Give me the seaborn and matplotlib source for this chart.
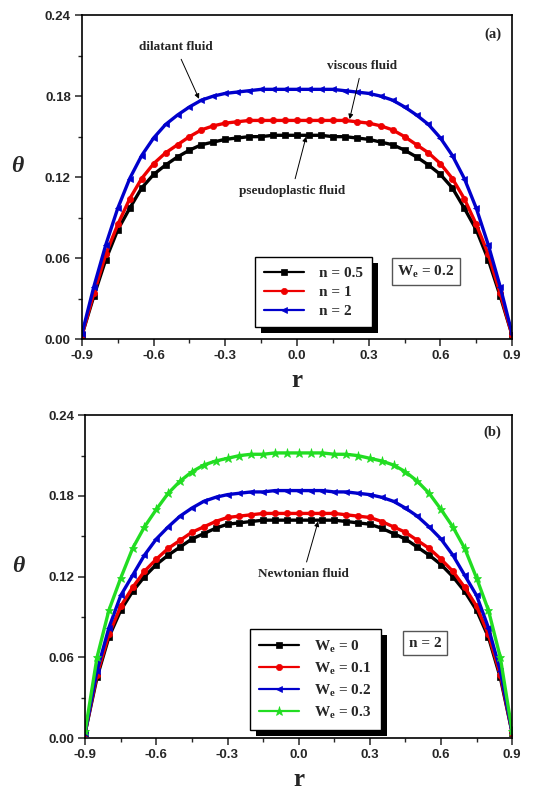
import numpy as np
import pandas as pd
import matplotlib
matplotlib.use("Agg")
import matplotlib.pyplot as plt
import seaborn as sns
from matplotlib.ticker import MultipleLocator, FormatStrFormatter
from matplotlib.patches import Rectangle

# ----- data -----
r = [-0.9, -0.85, -0.8, -0.75, -0.7, -0.65, -0.6, -0.55, -0.5, -0.45, -0.4, -0.35,
     -0.3, -0.25, -0.2, -0.15, -0.1, -0.05, 0.0, 0.05, 0.1, 0.15, 0.2, 0.25, 0.3,
     0.35, 0.4, 0.45, 0.5, 0.55, 0.6, 0.65, 0.7, 0.75, 0.8, 0.85, 0.9]

# panel (a): We = 0.2, varying n
theta_n05 = [0.003, 0.032, 0.059, 0.081, 0.097, 0.112, 0.122, 0.129, 0.135, 0.140, 0.144, 0.146,
             0.148, 0.149, 0.150, 0.150, 0.151, 0.151, 0.151, 0.151, 0.151, 0.150, 0.150, 0.149,
             0.148, 0.146, 0.144, 0.140, 0.135, 0.129, 0.122, 0.112, 0.097, 0.081, 0.059, 0.032, 0.003]
theta_n1 = [0.003, 0.034, 0.063, 0.085, 0.104, 0.119, 0.130, 0.138, 0.144, 0.150, 0.155, 0.158,
            0.160, 0.161, 0.162, 0.162, 0.162, 0.162, 0.162, 0.162, 0.162, 0.162, 0.162, 0.161,
            0.160, 0.158, 0.155, 0.150, 0.144, 0.138, 0.130, 0.119, 0.104, 0.085, 0.063, 0.034, 0.003]
theta_n2 = [0.004, 0.039, 0.070, 0.097, 0.119, 0.136, 0.149, 0.159, 0.166, 0.172, 0.177, 0.180,
            0.182, 0.183, 0.184, 0.185, 0.185, 0.185, 0.185, 0.185, 0.185, 0.185, 0.184, 0.183,
            0.182, 0.180, 0.177, 0.172, 0.166, 0.159, 0.149, 0.136, 0.119, 0.097, 0.070, 0.039, 0.004]

# panel (b): n = 2, varying We
theta_we0 = [0.004, 0.045, 0.075, 0.095, 0.109, 0.120, 0.129, 0.136, 0.142, 0.148, 0.152, 0.156,
             0.159, 0.160, 0.161, 0.162, 0.162, 0.162, 0.162, 0.162, 0.162, 0.162, 0.161, 0.160,
             0.159, 0.156, 0.152, 0.148, 0.142, 0.136, 0.129, 0.120, 0.109, 0.095, 0.075, 0.045, 0.004]
theta_we01 = [0.004, 0.047, 0.077, 0.098, 0.112, 0.124, 0.133, 0.141, 0.147, 0.153, 0.157, 0.161,
              0.164, 0.165, 0.166, 0.167, 0.167, 0.167, 0.167, 0.167, 0.167, 0.167, 0.166, 0.165,
              0.164, 0.161, 0.157, 0.153, 0.147, 0.141, 0.133, 0.124, 0.112, 0.098, 0.077, 0.047, 0.004]
theta_we02 = [0.004, 0.050, 0.082, 0.106, 0.121, 0.136, 0.148, 0.157, 0.165, 0.171, 0.176, 0.179,
              0.181, 0.182, 0.183, 0.183, 0.184, 0.184, 0.184, 0.184, 0.184, 0.183, 0.183, 0.182,
              0.181, 0.179, 0.176, 0.171, 0.165, 0.157, 0.148, 0.136, 0.121, 0.106, 0.082, 0.050, 0.004]
theta_we03 = [0.005, 0.060, 0.095, 0.119, 0.141, 0.157, 0.170, 0.182, 0.191, 0.198, 0.203, 0.206,
              0.208, 0.210, 0.211, 0.211, 0.212, 0.212, 0.212, 0.212, 0.212, 0.211, 0.211, 0.210,
              0.208, 0.206, 0.203, 0.198, 0.191, 0.182, 0.170, 0.157, 0.141, 0.119, 0.095, 0.060, 0.005]

labels_a = ["n = 0.5", "n = 1", "n = 2"]
labels_b = [r"$\mathbf{W}_\mathbf{e}$ = 0", r"$\mathbf{W}_\mathbf{e}$ = 0.1",
            r"$\mathbf{W}_\mathbf{e}$ = 0.2", r"$\mathbf{W}_\mathbf{e}$ = 0.3"]
colors = ["black", "#ee0000", "#0000cc", "#22dd22"]
markers = ["s", "o", "<", "*"]

# ----- style -----
sns.set_style("ticks")
plt.rcParams["font.family"] = ["Liberation Sans", "DejaVu Sans"]
plt.rcParams["axes.unicode_minus"] = False
plt.rcParams["mathtext.fontset"] = "custom"
plt.rcParams["mathtext.bf"] = "Liberation Serif:bold"
plt.rcParams["mathtext.rm"] = "Liberation Serif:bold"
serif = "Liberation Serif"

fig = plt.figure(figsize=(5.46, 7.91), dpi=100)
ax1 = fig.add_axes([0.150, 0.571, 0.788, 0.410])
ax2 = fig.add_axes([0.156, 0.067, 0.782, 0.408])


def style_axis(ax, ylab_x):
    ax.set_xlim(-0.9, 0.9)
    ax.set_ylim(0, 0.24)
    ax.xaxis.set_major_locator(MultipleLocator(0.3))
    ax.xaxis.set_minor_locator(MultipleLocator(0.15))
    ax.yaxis.set_major_locator(MultipleLocator(0.06))
    ax.yaxis.set_minor_locator(MultipleLocator(0.03))
    ax.xaxis.set_major_formatter(FormatStrFormatter("%.1f"))
    ax.yaxis.set_major_formatter(FormatStrFormatter("%.2f"))
    ax.tick_params(which="major", direction="out", length=5, width=1.1, labelsize=9.5,
                   top=False, right=False, pad=3)
    ax.tick_params(which="minor", direction="out", length=3, width=1.0, top=False, right=False)
    for lab in ax.get_xticklabels() + ax.get_yticklabels():
        lab.set_fontweight("bold")
    for sp in ax.spines.values():
        sp.set_linewidth(1.2)
        sp.set_color("black")
    ax.set_xlabel("r", fontfamily=serif, fontweight="bold", fontsize=18, labelpad=5)
    ax.set_ylabel("θ", rotation=0, fontfamily=serif, fontstyle="italic",
                  fontweight="bold", fontsize=17)
    ax.yaxis.set_label_coords(ylab_x, 0.5)


def draw_series(ax, series, labels):
    for i, (vals, lab) in enumerate(zip(series, labels)):
        sns.lineplot(x=r, y=vals, ax=ax, color=colors[i], marker=markers[i],
                     markersize=4.5 if markers[i] != "*" else 6.5, markeredgecolor=colors[i],
                     markeredgewidth=0.5, linewidth=2.4, label=lab)


def add_legend(ax, anchor):
    leg = ax.legend(loc="upper left", bbox_to_anchor=anchor, borderaxespad=0,
                    frameon=True, fancybox=False, framealpha=1, edgecolor="black",
                    handlelength=2.6, handletextpad=1.0, labelspacing=0.35,
                    borderpad=0.6, numpoints=1,
                    prop={"family": serif, "weight": "bold", "size": 11})
    leg.get_frame().set_linewidth(1.0)
    for h in leg.legend_handles:
        h.set_linewidth(1.6)
    return leg


draw_series(ax1, [theta_n05, theta_n1, theta_n2], labels_a)
style_axis(ax1, -0.15)
leg1 = add_legend(ax1, (0.402, 0.253))

draw_series(ax2, [theta_we0, theta_we01, theta_we02, theta_we03], labels_b)
style_axis(ax2, -0.157)
leg2 = add_legend(ax2, (0.386, 0.337))

# annotation text
ann = dict(fontfamily=serif, fontweight="bold", fontsize=9.5, ha="center", va="center")
arrow = dict(arrowstyle="-|>", color="black", lw=0.7, mutation_scale=7, shrinkB=0)

ax1.annotate("dilatant fluid", xy=(-0.41, 0.178), xytext=(-0.507, 0.216),
             arrowprops=arrow, **ann)
ax1.annotate("viscous fluid", xy=(0.22, 0.163), xytext=(0.272, 0.202),
             arrowprops=arrow, **ann)
ax1.annotate("pseudoplastic fluid", xy=(0.038, 0.150), xytext=(-0.021, 0.110),
             arrowprops=arrow, **ann)
ax2.annotate("Newtonian fluid", xy=(0.082, 0.161), xytext=(0.019, 0.122),
             arrowprops=arrow, **ann)

ax1.text(0.975, 0.94, "(a)", transform=ax1.transAxes, ha="right", va="center",
         fontfamily=serif, fontweight="bold", fontsize=10.5)
ax2.text(0.975, 0.947, "(b)", transform=ax2.transAxes, ha="right", va="center",
         fontfamily=serif, fontweight="bold", fontsize=10.5)

box = dict(boxstyle="square,pad=0.35", fc="white", ec="#555555", lw=1.0)
ax1.text(0.80, 0.21, r"$\mathbf{W}_\mathbf{e}$ = 0.2", transform=ax1.transAxes,
         ha="center", va="center", fontfamily=serif, fontweight="bold", fontsize=11, bbox=box)
ax2.text(0.796, 0.294, "n = 2", transform=ax2.transAxes,
         ha="center", va="center", fontfamily=serif, fontweight="bold", fontsize=11, bbox=box)

# solid black drop shadow behind the legends
fig.canvas.draw()
inv = fig.transFigure.inverted()
for ax, leg in [(ax1, leg1), (ax2, leg2)]:
    bb = leg.get_frame().get_window_extent()
    (x0, y0), (x1, y1) = inv.transform([(bb.x0 + 6, bb.y0 - 6), (bb.x1 + 6, bb.y1 - 6)])
    shadow = Rectangle((x0, y0), x1 - x0, y1 - y0, transform=fig.transFigure,
                       facecolor="black", edgecolor="none", zorder=4.5, clip_on=False)
    ax.add_patch(shadow)

fig.savefig("out.png", dpi=100)
